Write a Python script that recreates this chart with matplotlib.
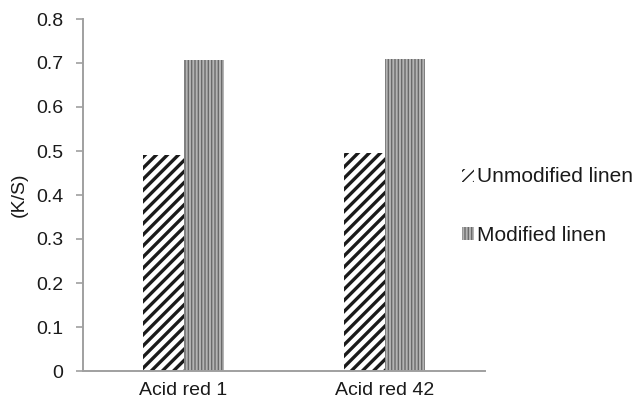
import numpy as np
import matplotlib
matplotlib.use('Agg')
import matplotlib.pyplot as plt

plt.rcParams['font.family'] = ['Liberation Sans', 'DejaVu Sans']

dyes = ['Acid red 1', 'Acid red 42']
unmodified = [0.49, 0.495]
modified = [0.707, 0.71]

fig = plt.figure(figsize=(6.37, 4.05), dpi=100)
ax = fig.add_axes([83/637, 34/405, 402/637, 352/405])

x = np.arange(len(dyes))
w = 0.2

with plt.rc_context({'hatch.linewidth': 2.4, 'hatch.color': '#1a1a1a'}):
    b1 = ax.bar(x - w/2, unmodified, w, color='white', edgecolor='#1a1a1a',
                linewidth=0, hatch='///', label='Unmodified linen')
with plt.rc_context({'hatch.linewidth': 1.0, 'hatch.color': '#6a6a6a'}):
    b2 = ax.bar(x + w/2, modified, w, color='#b4b4b4', edgecolor='#6a6a6a',
                linewidth=0, hatch='|||||', label='Modified linen')

ax.set_xlim(-0.5, 1.5)
ax.set_ylim(0, 0.8)
ax.set_yticks(np.arange(0, 0.81, 0.1))
ax.set_yticklabels(['0'] + ['%.1f' % v for v in np.arange(0.1, 0.81, 0.1)])
ax.set_xticks(x)
ax.set_xticklabels(dyes)
ax.tick_params(axis='x', length=0, pad=8, labelsize=14, labelcolor='#1a1a1a')
ax.tick_params(axis='y', length=5, color='#a0a0a0', width=1.2, labelsize=14,
               pad=9, labelcolor='#1a1a1a')
for s in ['top', 'right']:
    ax.spines[s].set_visible(False)
for s in ['left', 'bottom']:
    ax.spines[s].set_color('#a0a0a0')
    ax.spines[s].set_linewidth(1.4)

ax.set_ylabel('(K/S)', fontsize=14, labelpad=6, color='#1a1a1a')

leg = ax.legend(loc='center left', bbox_to_anchor=(0.922, 0.468), frameon=False,
                fontsize=15, handlelength=0.6, handleheight=0.6,
                handletextpad=0.1, labelspacing=1.9, borderaxespad=0)
for t in leg.get_texts():
    t.set_color('#1a1a1a')

plt.savefig('out.png', dpi=100)
